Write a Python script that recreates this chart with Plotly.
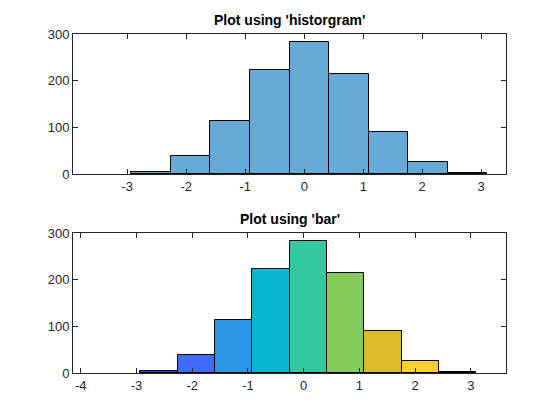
import plotly.graph_objects as go

bin_edges = [-2.93, -2.26, -1.59, -0.92, -0.25, 0.42, 1.09, 1.76, 2.43, 3.10]
counts = [4, 39, 114, 223, 283, 214, 90, 26, 2]
bar_colors = ["#3d3fe6", "#3d6cff", "#2996e8", "#0ab5d0", "#33c6a0",
              "#83cb5a", "#dbbb2a", "#fcd02e", "#f0f020"]
titles = ["Plot using 'historgram'", "Plot using 'bar'"]
top_xticks = [-3, -2, -1, 0, 1, 2, 3]
bottom_xticks = [-4, -3, -2, -1, 0, 1, 2, 3]
yticks = [0, 100, 200, 300]

centers = [(a + b) / 2 for a, b in zip(bin_edges[:-1], bin_edges[1:])]
widths = [b - a for a, b in zip(bin_edges[:-1], bin_edges[1:])]

FONT = "Liberation Sans, Arial, sans-serif"

fig = go.Figure()
fig.add_trace(go.Bar(x=centers, y=counts, width=widths, marker=dict(
    color="#66aad7", line=dict(color="black", width=1)), xaxis="x", yaxis="y"))
fig.add_trace(go.Bar(x=centers, y=counts, width=widths, marker=dict(
    color=bar_colors, line=dict(color="black", width=1)), xaxis="x2", yaxis="y2"))

ax_common = dict(showline=True, linecolor="#262626", linewidth=1, mirror="ticks",
                 ticks="inside", ticklen=5, tickcolor="#262626", showgrid=False,
                 zeroline=False, tickfont=dict(family=FONT, size=13, color="#262626"))

def labels(vals):
    return [str(v) for v in vals]

# plot area spans pixel rows 34..373
T, B = 34, 47
H = 420 - T - B

def frac(px):
    return (420 - B - px) / H

fig.update_layout(
    width=560, height=420, margin=dict(l=73, r=54, t=T, b=B, autoexpand=False),
    paper_bgcolor="white", plot_bgcolor="white", showlegend=False, bargap=0,
    xaxis=dict(domain=[0, 1], anchor="y", range=[-3.92, 3.42], tickvals=top_xticks,
               ticktext=labels(top_xticks), **ax_common),
    yaxis=dict(domain=[frac(174), 1], anchor="x", range=[0, 300], tickvals=yticks,
               ticktext=labels(yticks), **ax_common),
    xaxis2=dict(domain=[0, 1], anchor="y2", range=[-4.14, 3.63], tickvals=bottom_xticks,
                ticktext=labels(bottom_xticks), **ax_common),
    yaxis2=dict(domain=[0, frac(233)], anchor="x2", range=[0, 300], tickvals=yticks,
                ticktext=labels(yticks), **ax_common),
    annotations=[
        dict(text="<b>" + titles[0] + "</b>", x=0.5, xref="paper", y=frac(20), yref="paper",
             yanchor="middle", showarrow=False, font=dict(family=FONT, size=14, color="black")),
        dict(text="<b>" + titles[1] + "</b>", x=0.5, xref="paper", y=frac(219), yref="paper",
             yanchor="middle", showarrow=False, font=dict(family=FONT, size=14, color="black")),
    ],
)
fig.write_html("out.html")
